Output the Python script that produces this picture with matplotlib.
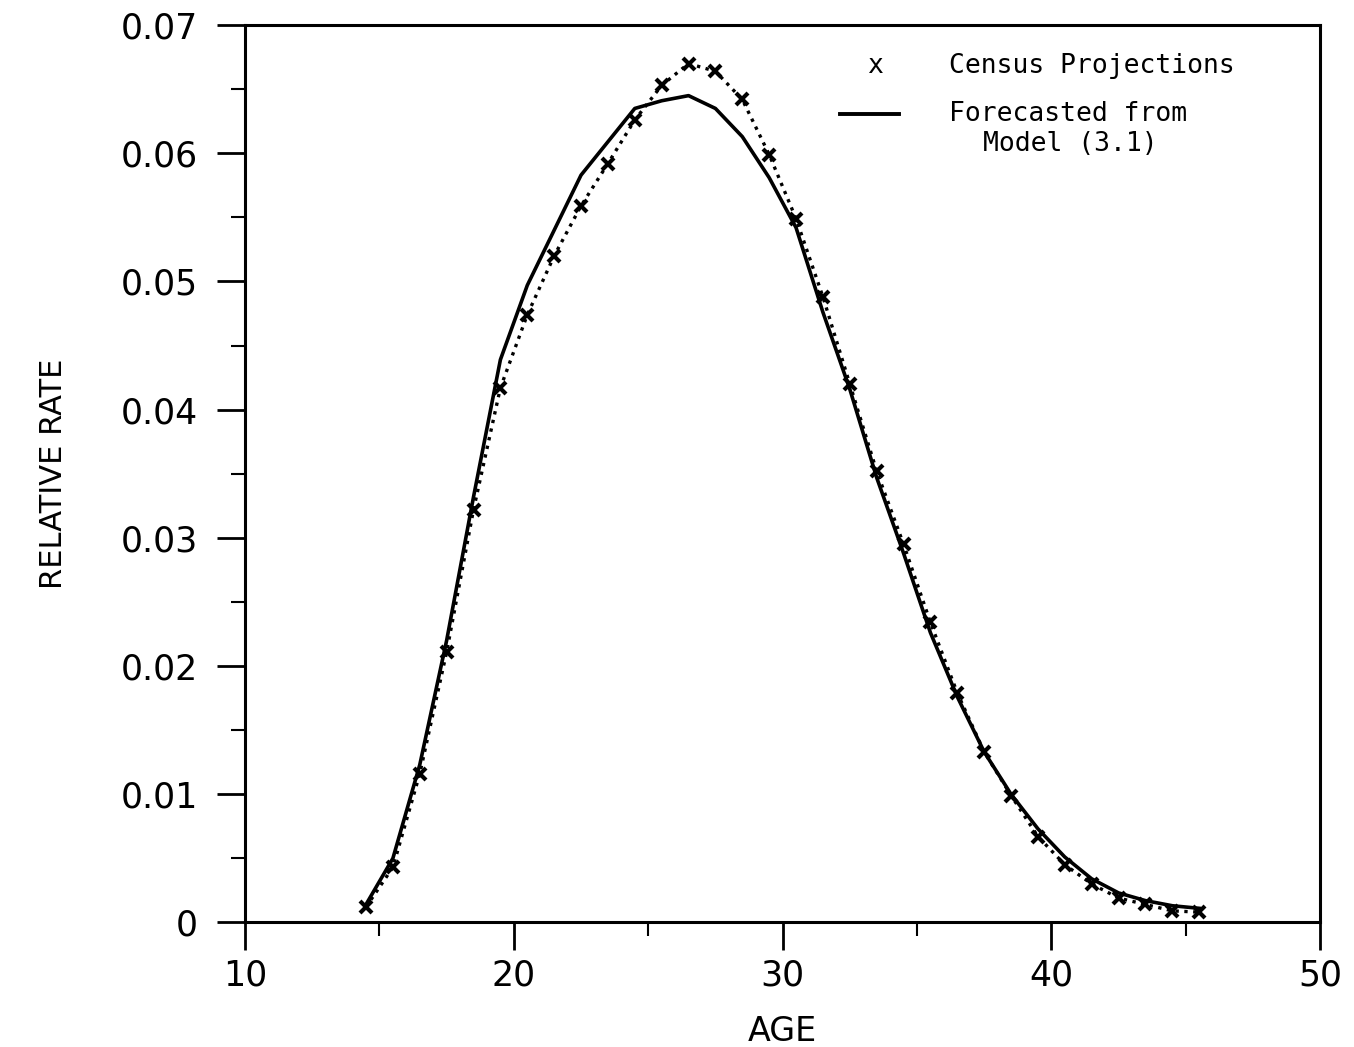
import matplotlib
matplotlib.use('Agg')
import matplotlib.pyplot as plt
from matplotlib.ticker import MultipleLocator, FuncFormatter

# Ages (single-year midpoints)
age = [14.5, 15.5, 16.5, 17.5, 18.5, 19.5, 20.5, 21.5, 22.5, 23.5, 24.5,
       25.5, 26.5, 27.5, 28.5, 29.5, 30.5, 31.5, 32.5, 33.5, 34.5, 35.5,
       36.5, 37.5, 38.5, 39.5, 40.5, 41.5, 42.5, 43.5, 44.5, 45.5]

# Census projections (x markers, dotted line)
census = [0.0012, 0.0043, 0.0116, 0.0211, 0.0322, 0.0417, 0.0474, 0.0520,
          0.0559, 0.0592, 0.0626, 0.0653, 0.0670, 0.0664, 0.0642, 0.0599,
          0.0549, 0.0488, 0.0420, 0.0352, 0.0295, 0.0234, 0.0179, 0.0133,
          0.0099, 0.0067, 0.0045, 0.0030, 0.0019, 0.0014, 0.0009, 0.0008]

# Forecast from Model (3.1) (solid line)
model = [0.0014, 0.0050, 0.0123, 0.0220, 0.0332, 0.0439, 0.0497, 0.0540,
         0.0583, 0.0609, 0.0635, 0.0641, 0.0645, 0.0635, 0.0613, 0.0581,
         0.0542, 0.0476, 0.0416, 0.0347, 0.0288, 0.0226, 0.0176, 0.0133,
         0.0100, 0.0073, 0.0051, 0.0034, 0.0023, 0.0017, 0.0013, 0.0011]

fig = plt.figure(figsize=(13.54, 10.47), dpi=100)
ax = fig.add_axes([0.181, 0.119, 0.794, 0.857])

ax.plot(age, model, '-', color='black', lw=2.6)
ax.plot(age, census, ':', color='black', lw=2.4,
        marker='x', markersize=9, markeredgewidth=3)

ax.set_xlim(10, 50)
ax.set_ylim(0, 0.07)
ax.xaxis.set_major_locator(MultipleLocator(10))
ax.xaxis.set_minor_locator(MultipleLocator(5))
ax.yaxis.set_major_locator(MultipleLocator(0.01))
ax.yaxis.set_minor_locator(MultipleLocator(0.005))
ax.yaxis.set_major_formatter(FuncFormatter(lambda v, p: '0' if abs(v) < 1e-9 else f'{v:.2f}'))

for s in ax.spines.values():
    s.set_linewidth(2.2)

ax.tick_params(axis='both', which='major', length=20, width=2, direction='out')
ax.tick_params(axis='both', which='minor', length=10, width=1.5, direction='out')
ax.tick_params(axis='y', which='major', labelsize=25, pad=14)
ax.tick_params(axis='x', which='major', labelsize=25, pad=6)

ax.set_xlabel('AGE', fontsize=24, labelpad=16)
ax.set_ylabel('RELATIVE RATE', fontsize=22, labelpad=38)

# hand-drawn style legend
ax.text(0.586, 0.955, 'x', transform=ax.transAxes, fontsize=19,
        family='DejaVu Sans Mono', ha='center', va='center')
ax.text(0.655, 0.955, 'Census Projections', transform=ax.transAxes,
        fontsize=19, family='DejaVu Sans Mono', va='center')
ax.plot([0.553, 0.608], [0.901, 0.901], transform=ax.transAxes,
        color='black', lw=2.8)
ax.text(0.655, 0.901, 'Forecasted from', transform=ax.transAxes,
        fontsize=19, family='DejaVu Sans Mono', va='center')
ax.text(0.686, 0.868, 'Model (3.1)', transform=ax.transAxes,
        fontsize=19, family='DejaVu Sans Mono', va='center')

fig.savefig('out.png', dpi=100)
